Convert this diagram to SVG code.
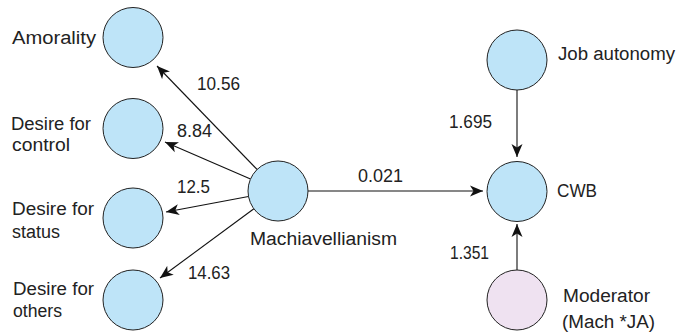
<svg xmlns="http://www.w3.org/2000/svg" width="691" height="334" viewBox="0 0 691 334">
<style>
text{font-family:"Liberation Sans","Open Sans",sans-serif;font-size:18px;fill:#222}
.n{fill:#bee4f8;stroke:#222;stroke-width:1}
.m{fill:#efe2f1;stroke:#222;stroke-width:1}
.e{stroke:#111;stroke-width:1.1;fill:none;marker-end:url(#ah)}
</style>
<defs>
<marker id="ah" markerUnits="userSpaceOnUse" markerWidth="14" markerHeight="12" refX="13" refY="5.5" orient="auto" viewBox="0 0 14 11">
<path d="M0,0 L13,5.5 L0,11 L3.5,5.5 z" fill="#111"/>
</marker>
</defs>
<rect width="691" height="334" fill="#fff"/>
<g id="connectors">
<line class="e" x1="257.1" y1="169.5" x2="157" y2="66"/>
<line class="e" x1="250.5" y1="179.1" x2="165" y2="142"/>
<line class="e" x1="248.5" y1="196.5" x2="166" y2="212"/>
<line class="e" x1="253.9" y1="208.8" x2="160" y2="278"/>
<line class="e" x1="308" y1="191" x2="483" y2="191"/>
<line class="e" x1="517" y1="90" x2="517" y2="157"/>
<line class="e" x1="517" y1="270" x2="517" y2="224"/>
<text x="197" y="90" textLength="43" lengthAdjust="spacingAndGlyphs">10.56</text>
<text x="177" y="137" textLength="35" lengthAdjust="spacingAndGlyphs">8.84</text>
<text x="177" y="193" textLength="33" lengthAdjust="spacingAndGlyphs">12.5</text>
<text x="188" y="279" textLength="42" lengthAdjust="spacingAndGlyphs">14.63</text>
<text x="358" y="182" textLength="45" lengthAdjust="spacingAndGlyphs">0.021</text>
<text x="449" y="128" textLength="43" lengthAdjust="spacingAndGlyphs">1.695</text>
<text x="450" y="259" textLength="39" lengthAdjust="spacingAndGlyphs">1.351</text>
</g>
<g id="amorality">
<circle class="n" cx="133" cy="37.5" r="30"/>
<text x="12" y="44" textLength="84" lengthAdjust="spacingAndGlyphs">Amorality</text>
</g>
<g id="desire-control">
<circle class="n" cx="133" cy="128.5" r="30"/>
<text x="11" y="130" textLength="80" lengthAdjust="spacingAndGlyphs">Desire for</text>
<text x="12" y="151" textLength="58" lengthAdjust="spacingAndGlyphs">control</text>
</g>
<g id="desire-status">
<circle class="n" cx="133" cy="218" r="30"/>
<text x="12" y="215" textLength="82" lengthAdjust="spacingAndGlyphs">Desire for</text>
<text x="12" y="238" textLength="48" lengthAdjust="spacingAndGlyphs">status</text>
</g>
<g id="desire-others">
<circle class="n" cx="133" cy="300" r="30"/>
<text x="13" y="295" textLength="81" lengthAdjust="spacingAndGlyphs">Desire for</text>
<text x="13" y="317" textLength="49" lengthAdjust="spacingAndGlyphs">others</text>
</g>
<g id="machiavellianism">
<circle class="n" cx="278" cy="191" r="30"/>
<text x="250" y="245" textLength="147" lengthAdjust="spacingAndGlyphs">Machiavellianism</text>
</g>
<g id="job-autonomy">
<circle class="n" cx="517" cy="60" r="30"/>
<text x="558" y="60" textLength="117" lengthAdjust="spacingAndGlyphs">Job autonomy</text>
</g>
<g id="cwb">
<circle class="n" cx="517" cy="191.5" r="30"/>
<text x="557" y="197" textLength="40" lengthAdjust="spacingAndGlyphs">CWB</text>
</g>
<g id="moderator">
<circle class="m" cx="517" cy="300" r="30"/>
<text x="563" y="302" textLength="87" lengthAdjust="spacingAndGlyphs">Moderator</text>
<text x="562" y="328" textLength="93" lengthAdjust="spacingAndGlyphs">(Mach *JA)</text>
</g>
</svg>
